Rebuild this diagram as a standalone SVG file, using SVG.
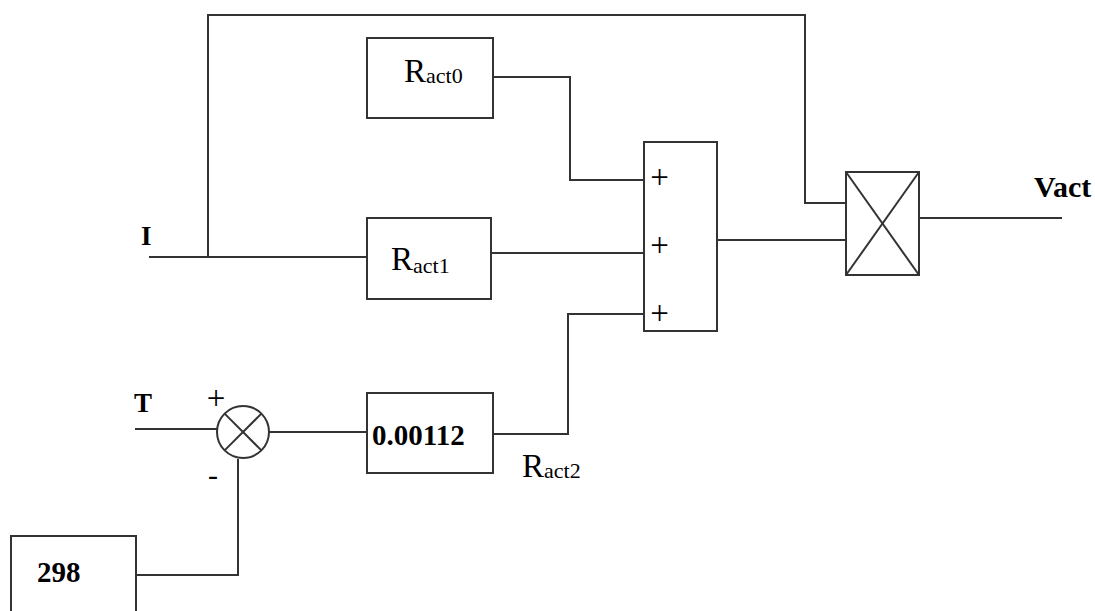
<svg xmlns="http://www.w3.org/2000/svg" width="1095" height="611" viewBox="0 0 1095 611">
<style>
.b{fill:#fff;stroke:#333;stroke-width:2}
.w{fill:none;stroke:#333;stroke-width:2}
.t{font-family:"Liberation Serif",serif;fill:#000}
.bd{font-weight:bold}
.p{font-family:"Liberation Serif",serif;fill:#000;font-size:33px;text-anchor:middle}
</style>
<rect width="1095" height="611" fill="#fff"/>
<g id="connectors">
<polyline class="w" points="149,257 367,257"/>
<polyline class="w" points="208,257 208,15 805,15 805,203 846,203"/>
<polyline class="w" points="493,77 570,77 570,180 644,180"/>
<polyline class="w" points="491,253 644,253"/>
<polyline class="w" points="493,434 568,434 568,314 644,314"/>
<polyline class="w" points="717,240 846,240"/>
<polyline class="w" points="919,218 1062,218"/>
<polyline class="w" points="135,429 217,429"/>
<polyline class="w" points="269,432 367,432"/>
<polyline class="w" points="238,459 238,575 136,575"/>
</g>
<g id="ract0"><rect class="b" x="367" y="38" width="126" height="80"/>
<text class="t" x="404" y="82" font-size="33">R<tspan font-size="22" dy="1">act0</tspan></text></g>
<g id="ract1"><rect class="b" x="367" y="218" width="124" height="81"/>
<text class="t" x="391" y="270" font-size="33">R<tspan font-size="22" dy="3">act1</tspan></text></g>
<g id="sum"><rect class="b" x="644" y="142" width="73" height="189"/>
<text class="p" x="659.5" y="188">+</text>
<text class="p" x="659.5" y="256">+</text>
<text class="p" x="659.5" y="324">+</text></g>
<g id="mult"><rect class="b" x="846" y="172" width="73" height="103"/>
<line class="w" x1="846" y1="172" x2="919" y2="275" stroke-width="1.5"/>
<line class="w" x1="919" y1="172" x2="846" y2="275" stroke-width="1.5"/></g>
<g id="junction"><circle class="b" cx="243" cy="432" r="26"/>
<line class="w" x1="224.6" y1="413.6" x2="261.4" y2="450.4"/>
<line class="w" x1="261.4" y1="413.6" x2="224.6" y2="450.4"/>
<text class="p" x="216" y="409" font-size="31">+</text>
<text class="t" x="208" y="485" font-size="30">-</text></g>
<g id="gain"><rect class="b" x="367" y="393" width="126" height="80"/>
<text class="t bd" x="372" y="445" font-size="29">0.00112</text></g>
<g id="const298"><rect class="b" x="11" y="536" width="125" height="80"/>
<text class="t bd" x="37" y="582" font-size="29">298</text></g>
<g id="labels">
<text class="t bd" x="141" y="245" font-size="27">I</text>
<text class="t bd" x="134" y="412" font-size="27">T</text>
<text class="t bd" x="1034" y="197" font-size="30">Vact</text>
<text class="t" x="522" y="477" font-size="33">R<tspan font-size="22" dy="1">act2</tspan></text>
</g>
</svg>
